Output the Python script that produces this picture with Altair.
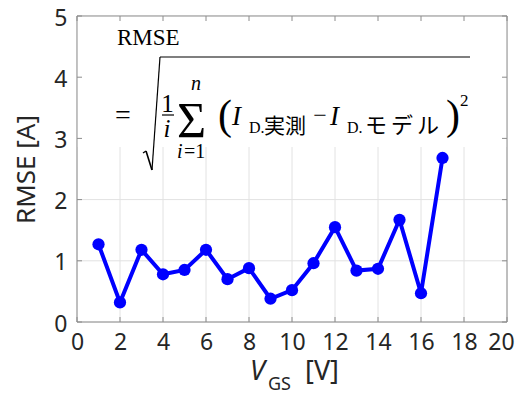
import altair as alt
import pandas as pd

# ---- data ----
vgs = list(range(1, 18))
rmse = [1.27, 0.32, 1.18, 0.78, 0.85, 1.18, 0.70, 0.88, 0.38, 0.52,
        0.96, 1.55, 0.84, 0.87, 1.67, 0.47, 2.68]
x_ticks = [0, 2, 4, 6, 8, 10, 12, 14, 16, 18, 20]
y_ticks = [0, 1, 2, 3, 4, 5]
y_title = "RMSE [A]"
x_title_main = "V"
x_title_sub = "GS"
x_title_unit = "[V]"

W, H = 430, 306
BLUE = "#0000ff"
GRID = "#e2e2e2"
FRAME = "#8c8c8c"
TXT = "#262626"
SERIF = "Liberation Serif"
SANS = "Noto Sans"
CJK = "Noto Sans CJK JP"

xs = alt.Scale(domain=[0, 20], nice=False, zero=False)
ys = alt.Scale(domain=[0, 5], nice=False, zero=False)

xaxis = alt.Axis(
    values=x_ticks, title=None, grid=False, domain=False, ticks=False, tickSize=0,
    labelFontSize=23, labelFont=SANS, labelColor=TXT, labelPadding=9,
    labelOffset={"condition": {"test": "datum.value == 20", "value": -6}, "value": 0},
    labelFlush=False, format="d")
yaxis = alt.Axis(
    values=y_ticks, title=y_title, titleFont=SANS, titleFontSize=26,
    titleFontWeight="normal", titleColor=TXT, titlePadding=14,
    grid=False, domain=False, ticks=False, tickSize=0,
    labelFontSize=23, labelFont=SANS, labelColor=TXT, labelPadding=10,
    labelOffset=2, labelFlush=False, format="d")

df = pd.DataFrame({"vgs": vgs, "rmse": rmse})
xt = pd.DataFrame({"vgs": x_ticks})
yt = pd.DataFrame({"rmse": y_ticks})
one = alt.Data(values=[{"a": 0}])

X = lambda: alt.X("vgs:Q", scale=xs, axis=xaxis)
Y = lambda: alt.Y("rmse:Q", scale=ys, axis=yaxis)


def txt(s, x, y, size, font=SERIF, style="normal", align="left", color="black", weight="normal"):
    return alt.Chart(one).mark_text(
        text=s, fontSize=size, font=font, fontStyle=style, align=align,
        baseline="alphabetic", color=color, fontWeight=weight
    ).encode(x=alt.value(x), y=alt.value(y))


def seg(x1, y1, x2, y2, w, color="black"):
    return alt.Chart(one).mark_rule(color=color, strokeWidth=w).encode(
        x=alt.value(x1), y=alt.value(y1), x2=alt.value(x2), y2=alt.value(y2))


xgrid = alt.Chart(xt).mark_rule(color=GRID, strokeWidth=1).encode(x=X())
ygrid = alt.Chart(yt).mark_rule(color=GRID, strokeWidth=1).encode(y=Y())

# white panel behind the formula
panel = alt.Chart(one).mark_rect(color="white").encode(
    x=alt.value(0), x2=alt.value(W), y=alt.value(0), y2=alt.value(131))

tick_b = alt.Chart(xt).mark_rule(color=FRAME).encode(x=X(), y=alt.value(H), y2=alt.value(H - 5))
tick_t = alt.Chart(xt).mark_rule(color=FRAME).encode(x=X(), y=alt.value(0), y2=alt.value(5))
tick_l = alt.Chart(yt).mark_rule(color=FRAME).encode(y=Y(), x=alt.value(0), x2=alt.value(5))
tick_r = alt.Chart(yt).mark_rule(color=FRAME).encode(y=Y(), x=alt.value(W), x2=alt.value(W - 5))

frame = [
    seg(0, 0, W, 0, 1, FRAME), seg(0, H, W, H, 1, FRAME),
    seg(0, 0, 0, H, 1, FRAME), seg(W, 0, W, H, 1, FRAME),
]

# formula (RMSE = sqrt(1/i sum (I_D.実測 - I_D.モデル)^2))
formula = [
    txt("RMSE", 40, 29, 23),
    txt("=", 38, 108, 28),
    seg(69, 135, 75, 154, 1.6),
    seg(66, 137, 69, 135, 1.4),
    seg(75, 154, 83, 41, 1.2),
    seg(83, 41, 393, 41, 1.2),
    txt("1", 90.5, 96, 25, align="center"),
    seg(85, 99, 97, 99, 1.2),
    txt("i", 90, 121, 25, style="italic", align="center"),
    txt("\u03a3", 114.5, 121, 50, align="center"),
    txt("n", 119, 74, 20, style="italic", align="center"),
    txt("i", 100, 142, 20, style="italic"),
    txt("=1", 107, 142, 20),
    txt("(", 141, 113, 42),
    txt("I", 155, 109, 27, style="italic"),
    txt("D.", 172, 117, 16),
    txt("実測", 187, 117, 21, font=CJK),
    txt("\u2212", 243, 107, 24, align="center"),
    txt("I", 253, 109, 27, style="italic"),
    txt("D.", 270, 117, 16),
    txt("モ", 299, 117, 22, font=CJK, align="center"),
    txt("デ", 325, 117, 22, font=CJK, align="center"),
    txt("ル", 351, 117, 22, font=CJK, align="center"),
    txt(")", 369, 113, 42),
    txt("2", 383, 90, 17),
]

# x-axis title with subscript
xtitle = [
    txt(x_title_main, 173, 364, 27, font=SANS, style="italic", color=TXT),
    txt(x_title_sub, 191, 374, 18, font=SANS, color=TXT),
    txt(x_title_unit, 228, 364, 27, font=SANS, color=TXT),
]

line = alt.Chart(df).mark_line(
    color=BLUE, strokeWidth=4,
    point=alt.OverlayMarkDef(filled=True, size=150, color=BLUE, opacity=1)
).encode(x=X(), y=Y())

chart = alt.layer(
    xgrid, ygrid, panel, tick_b, tick_t, tick_l, tick_r, *frame,
    *formula, *xtitle, line
).properties(
    width=W, height=H,
    autosize=alt.AutoSizeParams(type="none"),
    padding={"left": 69, "top": 8, "right": 9, "bottom": 70},
    background="white",
).configure_view(stroke=None)

chart.save("out.html", embed_options={"renderer": "svg", "actions": False})
